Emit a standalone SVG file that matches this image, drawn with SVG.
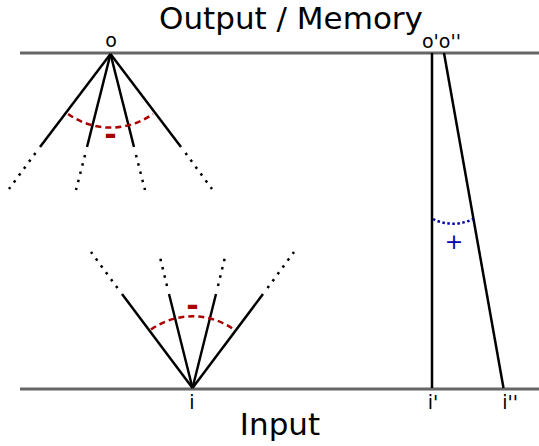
<svg xmlns="http://www.w3.org/2000/svg" width="539" height="446" viewBox="0 0 539 446">
<style>
text{font-family:"DejaVu Sans","Liberation Sans",sans-serif;fill:#000}
.axis{stroke:#666;stroke-width:3;fill:none}
.solid{stroke:#000;stroke-width:2.5;fill:none}
.dot{stroke:#000;stroke-width:2.5;fill:none;stroke-dasharray:2.5 6}
.neg{stroke:#aa0000;stroke-width:2.5;fill:none;stroke-dasharray:6 4}
.pos{stroke:#0000aa;stroke-width:2.5;fill:none;stroke-dasharray:2.5 2.5}
.lbl{font-size:19px;text-anchor:middle}
.big{font-size:31px;text-anchor:middle}
.minus{font-size:30px;font-weight:bold;fill:#aa0000;text-anchor:middle}
</style>
<rect width="539" height="446" fill="#fff"/>
<g id="axes">
<line class="axis" x1="20" y1="53" x2="539" y2="53"/>
<line class="axis" x1="20" y1="389" x2="539" y2="389"/>
<text class="big" x="291" y="28.5">Output / Memory</text>
<text class="big" x="280" y="435">Input</text>
</g>
<g id="connectors">
<g id="top-fan">
<line class="solid" x1="110.5" y1="54" x2="40" y2="147"/>
<line class="solid" x1="110.5" y1="54" x2="87" y2="147"/>
<line class="solid" x1="110.5" y1="54" x2="134" y2="147"/>
<line class="solid" x1="110.5" y1="54" x2="181" y2="147"/>
<line class="dot" x1="35.5" y1="153" x2="9" y2="189"/>
<line class="dot" x1="85" y1="155" x2="76" y2="190"/>
<line class="dot" x1="136" y1="155" x2="145" y2="190"/>
<line class="dot" x1="185.5" y1="153" x2="212" y2="189"/>
<path class="neg" d="M 68.1 114 A 73 73 0 0 0 152.9 114"/>
</g>
<g id="bottom-fan">
<line class="solid" x1="192.5" y1="388" x2="122" y2="294"/>
<line class="solid" x1="192.5" y1="388" x2="169" y2="294"/>
<line class="solid" x1="192.5" y1="388" x2="216" y2="294"/>
<line class="solid" x1="192.5" y1="388" x2="263" y2="294"/>
<line class="dot" x1="117.5" y1="288" x2="91" y2="252"/>
<line class="dot" x1="167" y1="286" x2="159" y2="253"/>
<line class="dot" x1="218" y1="286" x2="226" y2="253"/>
<line class="dot" x1="267.5" y1="288" x2="294" y2="252"/>
<path class="neg" d="M 151 329.5 A 72 72 0 0 1 234 329.5"/>
</g>
<g id="right-pair">
<line class="solid" x1="432" y1="53" x2="432" y2="388"/>
<line class="solid" x1="444" y1="53" x2="503.5" y2="388"/>
<path class="pos" d="M 433 219 A 45 45 0 0 0 473 219"/>
</g>
</g>
<g id="node-o"><text class="lbl" x="111" y="47">o</text></g>
<g id="node-o2"><text class="lbl" x="422" y="48" style="text-anchor:start">o'o''</text></g>
<g id="node-i"><text class="lbl" x="192" y="409">i</text></g>
<g id="node-i2"><text class="lbl" x="433" y="409">i'</text></g>
<g id="node-i3"><text class="lbl" x="510" y="409">i''</text></g>
<g id="sign-top"><text class="minus" x="110.5" y="145">-</text></g>
<g id="sign-bottom"><text class="minus" x="192.5" y="316">-</text></g>
<g id="sign-plus"><text x="454" y="249" style="font-size:22px;fill:#0000aa;text-anchor:middle">+</text></g>
</svg>
